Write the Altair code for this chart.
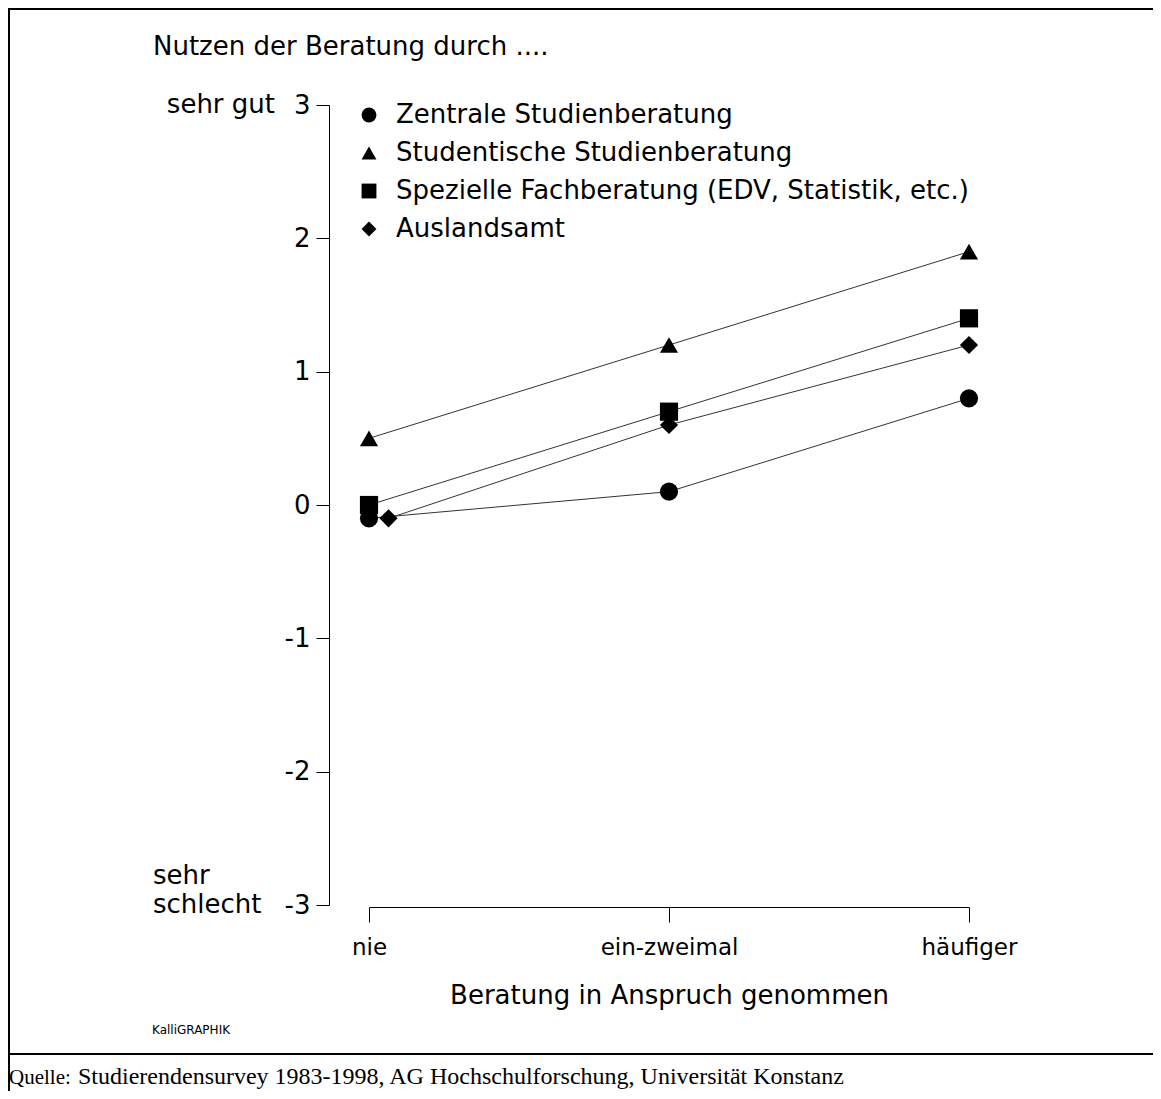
import altair as alt
import pandas as pd

# ---- data ----
categories = ["nie", "ein-zweimal", "häufiger"]
cat_pos = [0, 1, 2]
series = [
    "Zentrale Studienberatung",
    "Studentische Studienberatung",
    "Spezielle Fachberatung (EDV, Statistik, etc.)",
    "Auslandsamt",
]
shapes = ["circle", "triangle-up", "square", "diamond"]
zentrale = [-0.1, 0.1, 0.8]
studentische = [0.5, 1.2, 1.9]
speziell = [0.0, 0.7, 1.4]
ausland = [-0.1, 0.6, 1.2]
# in the original the "nie" diamond is drawn slightly to the right of the category
ausland_pos = [0.065, 1, 2]

y_ticks = [-3, -2, -1, 0, 1, 2, 3]
title_text = "Nutzen der Beratung durch ...."
x_title = "Beratung in Anspruch genommen"
y_top_label = "sehr gut"
y_bottom_label = ["sehr", "schlecht"]
credit = "KalliGRAPHIK"
source_head = "Quelle:"
source_text = "Studierendensurvey 1983-1998, AG Hochschulforschung, Universität Konstanz"

rows = []
for name, vals, poss in [
    (series[0], zentrale, cat_pos),
    (series[1], studentische, cat_pos),
    (series[2], speziell, cat_pos),
    (series[3], ausland, ausland_pos),
]:
    for p, v in zip(poss, vals):
        rows.append({"serie": name, "pos": p, "wert": v})
df = pd.DataFrame(rows)

SANS = "DejaVu Sans"
SERIF = "Liberation Serif"

label_expr = "[" + ",".join("'" + c + "'" for c in categories) + "][datum.value]"
y_label_expr = "datum.value < 0 ? '-' + abs(datum.value) : '' + datum.value"

x_enc = alt.X(
    "pos:Q",
    scale=alt.Scale(domain=[0, 2], nice=False, zero=False),
    axis=alt.Axis(
        values=cat_pos,
        labelExpr=label_expr,
        labelFlush=False,
        labelOverlap=False,
        title=x_title,
        offset=2,
        tickSize=15,
        labelFontSize=23,
        labelPadding=14,
        titleFontSize=26,
        titlePadding=23,
    ),
)
y_enc = alt.Y(
    "wert:Q",
    scale=alt.Scale(domain=[-3, 3], nice=False, zero=False),
    axis=alt.Axis(
        values=y_ticks,
        labelExpr=y_label_expr,
        labelFlush=False,
        labelOverlap=False,
        title=None,
        offset=40,
        tickSize=13,
        labelFontSize=26,
        labelPadding=6,
    ),
)

lines = alt.Chart(df).mark_line(color="#333333", strokeWidth=1).encode(
    x=x_enc, y=y_enc, detail="serie:N", order="pos:Q"
)

points = alt.Chart(df).mark_point(
    filled=True, size=330, color="black", opacity=1, strokeWidth=0
).encode(
    x=x_enc,
    y=y_enc,
    shape=alt.Shape(
        "serie:N",
        sort=series,
        scale=alt.Scale(domain=series, range=shapes),
        legend=alt.Legend(
            title=None,
            orient="none",
            legendX=-13,
            legendY=-3,
            padding=0,
            labelFont=SANS,
            labelFontSize=26,
            labelColor="black",
            labelOffset=14,
            labelLimit=0,
            rowPadding=12,
            symbolSize=220,
            symbolFillColor="black",
            symbolStrokeColor="black",
            symbolStrokeWidth=0,
            symbolOpacity=1,
        ),
    ),
)


def text_layer(txt, x, y, size=26, font=SANS, align="left", baseline="alphabetic"):
    return alt.Chart(pd.DataFrame({"t": [txt]})).mark_text(
        font=font, fontSize=size, align=align, baseline=baseline, color="black"
    ).encode(text="t:N", x=alt.value(x), y=alt.value(y))


def rule_layer(x, x2, y, y2, w=2):
    return alt.Chart(pd.DataFrame({"d": [0]})).mark_rule(
        color="black", strokeWidth=w
    ).encode(x=alt.value(x), x2=alt.value(x2), y=alt.value(y), y2=alt.value(y2))


annotations = [
    text_layer(title_text, -216, -50),
    text_layer(y_top_label, -94, 0, align="right", baseline="middle"),
    text_layer(y_bottom_label[0], -216, 771, baseline="middle"),
    text_layer(y_bottom_label[1], -216, 800, baseline="middle"),
    text_layer(credit, -217, 929, size=12),
    text_layer(source_head, -360, 979, size=21, font=SERIF),
    text_layer(source_text, -291, 979, size=24, font=SERIF),
    rule_layer(-361, 784, -96, -96),
    rule_layer(-360, -360, -97, 986),
    rule_layer(-361, 784, 949, 949),
]

chart = (
    alt.layer(lines, points, *annotations)
    .properties(
        width=600,
        height=800,
        autosize=alt.AutoSizeParams(type="none"),
        padding={"left": 361, "top": 97, "right": 184, "bottom": 186},
        background="white",
    )
    .configure_view(stroke=None)
    .configure_axis(
        grid=False,
        domainColor="black",
        domainWidth=1,
        tickColor="black",
        tickWidth=1,
        labelColor="black",
        labelFont=SANS,
        titleFont=SANS,
        titleColor="black",
        titleFontWeight="normal",
    )
)

chart.save("out.html", embed_options={"renderer": "svg", "actions": False})
